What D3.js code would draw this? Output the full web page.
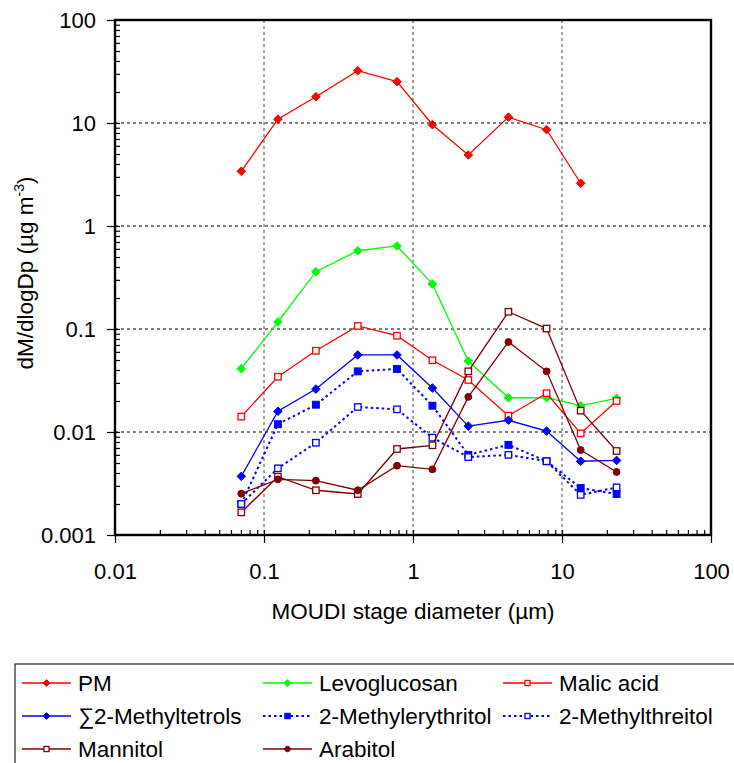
<!DOCTYPE html>
<html>
<head>
<meta charset="utf-8">
<script src="https://cdn.jsdelivr.net/npm/d3@7"></script>
<style>
    body { margin: 0; background: #fff; }
    svg { font-family: "Liberation Sans", Arial, sans-serif; }
</style>
</head>
<body>
<div id="chart"></div>
<script>
// MOUDI stage diameters (um)
const diameters = [0.0704, 0.124, 0.223, 0.426, 0.781, 1.35, 2.35, 4.37, 7.88, 13.35, 23.25];

// dM/dlogDp values (ug m-3), one per stage
const pm = [3.40, 10.9, 18.0, 32.2, 25.2, 9.63, 4.89, 11.4, 8.61, 2.60];
const levoglucosan = [0.0412, 0.117, 0.360, 0.575, 0.640, 0.273, 0.0489, 0.0215, 0.0215, 0.0180, 0.0212];
const malicAcid = [0.0141, 0.0344, 0.0615, 0.107, 0.0861, 0.0497, 0.0320, 0.0144, 0.0238, 0.0097, 0.0200];
const methyltetrols = [0.00371, 0.0159, 0.0261, 0.0560, 0.0560, 0.0267, 0.0114, 0.0130, 0.0102, 0.0052, 0.0053];
const methylerythritol = [0.0020, 0.0119, 0.0184, 0.0388, 0.0409, 0.0180, 0.0060, 0.0075, 0.0052, 0.00286, 0.0025];
const methylthreitol = [0.0020, 0.00444, 0.00787, 0.0175, 0.0166, 0.00881, 0.00571, 0.0060, 0.0052, 0.00245, 0.0029];
const mannitol = [0.00166, 0.00368, 0.00272, 0.0025, 0.00684, 0.00743, 0.0388, 0.147, 0.101, 0.0161, 0.00654];
const arabitol = [0.00252, 0.00347, 0.00337, 0.00272, 0.00471, 0.00434, 0.0219, 0.0748, 0.0388, 0.00668, 0.00409];

const xTicks = [0.01, 0.1, 1, 10, 100];
const yTicks = [0.001, 0.01, 0.1, 1, 10, 100];

const series = [
    {name: "PM", values: pm, color: "#ff0000", marker: "diamond", dotted: false},
    {name: "Levoglucosan", values: levoglucosan, color: "#00ff00", marker: "diamond", dotted: false},
    {name: "Malic acid", values: malicAcid, color: "#ff0000", marker: "openSquare", dotted: false},
    {name: "\u22112-Methyltetrols", values: methyltetrols, color: "#0000ff", marker: "diamond", dotted: false},
    {name: "2-Methylerythritol", values: methylerythritol, color: "#0000ff", marker: "square", dotted: true},
    {name: "2-Methylthreitol", values: methylthreitol, color: "#0000ff", marker: "openSquare", dotted: true},
    {name: "Mannitol", values: mannitol, color: "#800000", marker: "openSquare", dotted: false},
    {name: "Arabitol", values: arabitol, color: "#800000", marker: "circle", dotted: false}
];

let margin = {top: 20, right: 23, bottom: 228, left: 115};
let width = 734 - margin.left - margin.right,
    height = 763 - margin.top - margin.bottom;

let svg = d3.select("#chart").append("svg")
    .attr("width", 734)
    .attr("height", 763);

let g = svg.append("g")
    .attr("transform", "translate(" + margin.left + "," + margin.top + ")");

let x = d3.scaleLog().domain([0.01, 100]).range([0, width]);
let y = d3.scaleLog().domain([0.001, 100]).range([height, 0]);

// minor ticks 2..9 for every decade
function minors(lo, hi) {
    let out = [];
    for (let e = Math.log10(lo); e < Math.log10(hi); e++) {
        for (let k = 1; k <= 9; k++) out.push(k * Math.pow(10, e));
    }
    return out;
}

function fmt(d) {
    return d >= 1 ? d3.format("d")(d) : String(d);
}

// gridlines
g.append("g").selectAll("line")
    .data(yTicks.slice(1, -1))
    .enter().append("line")
    .attr("x1", 0).attr("x2", width)
    .attr("y1", d => y(d)).attr("y2", d => y(d))
    .attr("stroke", "#000")
    .attr("stroke-width", 1)
    .attr("stroke-dasharray", "3,3");

g.append("g").selectAll("line")
    .data(xTicks.slice(1, -1))
    .enter().append("line")
    .attr("y1", 0).attr("y2", height)
    .attr("x1", d => x(d)).attr("x2", d => x(d))
    .attr("stroke", "#444")
    .attr("stroke-width", 1)
    .attr("stroke-dasharray", "3,3");

// inner minor ticks
g.append("g")
    .attr("class", "axis")
    .call(d3.axisLeft(y).tickValues(minors(0.001, 100)).tickSize(-5).tickSizeOuter(0).tickFormat(""));
g.append("g")
    .attr("class", "axis")
    .attr("transform", "translate(0," + height + ")")
    .call(d3.axisBottom(x).tickValues(minors(0.01, 100)).tickSize(-5).tickSizeOuter(0).tickFormat(""));

// major ticks with labels
let yAxis = g.append("g")
    .attr("class", "axis")
    .call(d3.axisLeft(y).tickValues(yTicks).tickSize(8).tickPadding(11).tickSizeOuter(0).tickFormat(fmt));
let xAxis = g.append("g")
    .attr("class", "axis")
    .attr("transform", "translate(0," + height + ")")
    .call(d3.axisBottom(x).tickValues(xTicks).tickSize(8).tickPadding(20).tickSizeOuter(0).tickFormat(fmt));

g.selectAll(".axis .domain").remove();
g.selectAll(".axis line").attr("stroke", "#000").attr("stroke-width", 1.2);
g.selectAll(".axis text").attr("font-size", "22px").attr("fill", "#000")
    .attr("font-family", "'Liberation Sans', Arial, sans-serif");

// plot frame
g.append("rect")
    .attr("x", 0).attr("y", 0)
    .attr("width", width).attr("height", height)
    .attr("fill", "none")
    .attr("stroke", "#000")
    .attr("stroke-width", 2.4);

// axis titles
svg.append("text")
    .attr("x", margin.left + width / 2)
    .attr("y", 619)
    .attr("text-anchor", "middle")
    .attr("font-size", "22.5px")
    .text("MOUDI stage diameter (\u00b5m)");

let yTitle = svg.append("text")
    .attr("transform", "translate(33,273) rotate(-90)")
    .attr("text-anchor", "middle")
    .attr("font-size", "22.5px");
yTitle.append("tspan").text("dM/dlogDp (\u00b5g m");
yTitle.append("tspan").attr("font-size", "14px").attr("dy", "-9").text("-3");
yTitle.append("tspan").attr("dy", "9").text(")");

function drawMarker(sel, type, color, r) {
    if (type === "diamond") {
        sel.append("path")
            .attr("d", `M0,${-r}L${r},0L0,${r}L${-r},0Z`)
            .attr("fill", color).attr("stroke", color).attr("stroke-width", 1);
    } else if (type === "square") {
        sel.append("rect")
            .attr("x", -r * 0.8).attr("y", -r * 0.8)
            .attr("width", r * 1.6).attr("height", r * 1.6)
            .attr("fill", color).attr("stroke", color).attr("stroke-width", 1);
    } else if (type === "openSquare") {
        sel.append("rect")
            .attr("x", -r * 0.75).attr("y", -r * 0.75)
            .attr("width", r * 1.5).attr("height", r * 1.5)
            .attr("fill", "#fff").attr("stroke", color).attr("stroke-width", 1.3);
    } else {
        sel.append("circle")
            .attr("r", r * 0.8)
            .attr("fill", color).attr("stroke", color).attr("stroke-width", 1);
    }
}

let line = d3.line()
    .x(d => x(d.d))
    .y(d => y(d.v));

series.forEach(s => {
    let pts = s.values.map((v, i) => ({d: diameters[i], v: v}));
    let sg = g.append("g");
    sg.append("path")
        .datum(pts)
        .attr("d", line)
        .attr("fill", "none")
        .attr("stroke", s.color)
        .attr("stroke-width", s.dotted ? 2 : 1.3)
        .attr("stroke-dasharray", s.dotted ? "2.5,3" : null);
    sg.selectAll(".pt")
        .data(pts)
        .enter().append("g")
        .attr("class", "pt")
        .attr("transform", d => "translate(" + x(d.d) + "," + y(d.v) + ")")
        .each(function () { drawMarker(d3.select(this), s.marker, s.color, 4.3); });
});

// legend
let legend = svg.append("g");
legend.append("rect")
    .attr("x", 15).attr("y", 664)
    .attr("width", 740).attr("height", 120)
    .attr("fill", "#fff")
    .attr("stroke", "#333")
    .attr("stroke-width", 1.3);

let colX = [22, 263, 503];
let rowY = [683, 716, 749];

series.forEach((s, i) => {
    let lx = colX[i % 3], ly = rowY[Math.floor(i / 3)];
    let item = legend.append("g").attr("transform", "translate(" + lx + "," + ly + ")");
    item.append("line")
        .attr("x1", 0).attr("x2", 49)
        .attr("y1", 0).attr("y2", 0)
        .attr("stroke", s.color)
        .attr("stroke-width", s.dotted ? 2 : 1.3)
        .attr("stroke-dasharray", s.dotted ? "2.5,3" : null);
    let m = item.append("g").attr("transform", "translate(24.5,0)");
    drawMarker(m, s.marker, s.color, 3.4);
    item.append("text")
        .attr("x", 56)
        .attr("dy", "0.35em")
        .attr("font-size", "22.5px")
        .text(s.name);
});
</script>
</body>
</html>
